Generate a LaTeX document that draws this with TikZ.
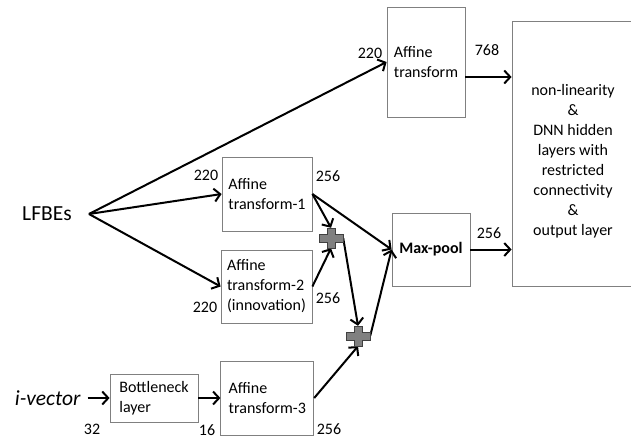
\documentclass[tikz,border=0pt]{standalone}
\usepackage{fontspec}
\setmainfont{Carlito}
\usetikzlibrary{positioning, arrows.meta}
\tikzset{
    x=1pt, y=-1pt,
    >={Straight Barb[length=6pt,width=13pt]},
    every node/.style={font=\fontsize{16}{20}\selectfont},
    layer/.style={draw=gray, line width=0.8pt, align=left, inner xsep=4pt},
    flow/.style={->, line width=2pt},
    dim/.style={inner sep=0pt},
    adder/.style={minimum width=24pt, minimum height=20pt, inner sep=0pt},
    inputtext/.style={font=\fontsize{21.5}{24}\selectfont},
}

\begin{document}
\begin{tikzpicture}
    \useasboundingbox (0,0) rectangle (631,439);
    \clip (0,0) rectangle (631,439);

    % layers
    \node[inputtext, inner xsep=17pt] (lfbe) at (47,214) {LFBEs};
    \node[layer, minimum width=78pt, minimum height=110pt] (aff) at (426,62) {Affine\\transform};
    \node[layer, minimum width=90pt, minimum height=74pt] (aff1) at (267,194) {Affine\\transform-1};
    \node[layer, minimum width=91pt, minimum height=73pt] (aff2) at (266.5,286.5) {Affine\\transform-2\\(innovation)};
    \node[layer, minimum width=88pt, minimum height=48pt] (bneck) at (154,398) {Bottleneck\\layer};
    \node[inputtext, inner xsep=7pt, left=22pt of bneck] (ivec) {\itshape i-vector};
    \node[layer, minimum width=93pt, minimum height=74pt, right=22pt of bneck] (aff3) {Affine\\transform-3};
    \node[layer, minimum width=78pt, minimum height=73pt, font=\fontsize{16}{20}\selectfont\bfseries] (pool) at (431,249.5) {Max-pool};
    \node[layer, minimum width=122pt, minimum height=265pt] (dnn) at (573,153.5) {};
    \node[align=center] (dnntext) at (573,161) {non-linearity\\\&\\DNN hidden\\layers with\\restricted\\connectivity\\\&\\output layer};
    \node[adder] (p1) at (331,238) {};
    \node[adder] (p2) at (358,336) {};

    % dimensions
    \node[dim] (d0) at (370,53) {220};
    \node[dim] (d1) at (487,50) {768};
    \node[dim] (d2) at (206,175) {220};
    \node[dim] (d3) at (328,176) {256};
    \node[dim] (d4) at (205,307) {220};
    \node[dim] (d5) at (328,298) {256};
    \node[dim] (d6) at (489,233) {256};
    \node[dim] (d7) at (92,429) {32};
    \node[dim] (d8) at (207,430) {16};
    \node[dim] (d9) at (329,429) {256};

    \draw[flow] (lfbe.east) -- (aff.west);
    \draw[flow] (lfbe.east) -- (aff1.west);
    \draw[flow] (lfbe.east) -- (aff2.west);
    \draw[flow] ([yshift=-15pt]aff.east) -- ([yshift=-15pt]aff.east -| dnn.west);
    \draw[flow] (aff1.east) -- (pool.west);
    \draw[flow] (aff1.east) -- (p1.north);
    \draw[flow] (aff2.east) -- (p1.south);
    \draw[flow] (p1.east) -- (p2.north);
    \draw[flow] (aff3.east) -- (p2.south);
    \draw[flow] (p2.east) -- (pool.west);
    \draw[flow] (pool.east) -- (pool.east -| dnn.west);
    \draw[flow] (ivec) -- (bneck);
    \draw[flow] (bneck) -- (aff3);

    % the two adders
    \foreach \p in {p1,p2}
        \filldraw[fill=gray, draw=darkgray, line width=0.8pt]
            ([shift={(-12pt,4pt)}]\p.center) -- ++(8pt,0pt) -- ++(0pt,6pt) -- ++(8pt,0pt)
            -- ++(0pt,-6pt) -- ++(8pt,0pt) -- ++(0pt,-8pt) -- ++(-8pt,0pt) -- ++(0pt,-6pt)
            -- ++(-8pt,0pt) -- ++(0pt,6pt) -- ++(-8pt,0pt) -- cycle;
\end{tikzpicture}
\end{document}
